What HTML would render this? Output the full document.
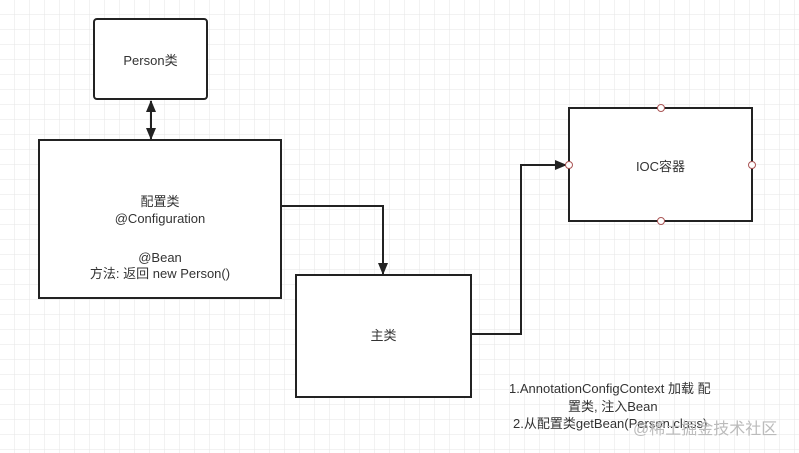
<!DOCTYPE html>
<html><head><meta charset="utf-8"><style>
html,body{margin:0;padding:0;background:#fff;}
svg{display:block;}
text{font-family:"Liberation Sans","Noto Sans CJK SC",sans-serif;font-size:13px;fill:#333;}
</style></head><body>
<svg width="799" height="453" viewBox="0 0 799 453" xmlns="http://www.w3.org/2000/svg">
<defs>
<pattern id="g" width="15" height="15" patternUnits="userSpaceOnUse">
<path d="M15 0V15M0 15H15" stroke="#e6e6e6" stroke-width="1" fill="none"/>
</pattern>
<marker id="a" markerWidth="12" markerHeight="10" refX="11" refY="5" orient="auto" markerUnits="userSpaceOnUse">
<path d="M0,0L12,5L0,10Z" fill="#222"/>
</marker>
<marker id="as" markerWidth="12" markerHeight="10" refX="1" refY="5" orient="auto" markerUnits="userSpaceOnUse">
<path d="M12,0L0,5L12,10Z" fill="#222"/>
</marker>
</defs>
<rect width="799" height="453" fill="#fff"/>
<rect width="799" height="453" fill="url(#g)"/>

<rect x="94" y="19" width="113" height="80" rx="3" fill="#fff" stroke="#222" stroke-width="2"/>
<text x="150.5" y="65" text-anchor="middle">Person类</text>

<line x1="151" y1="101" x2="151" y2="139" stroke="#222" stroke-width="2" marker-start="url(#as)" marker-end="url(#a)"/>

<rect x="39" y="140" width="242" height="158" fill="#fff" stroke="#222" stroke-width="2"/>
<text x="160" y="206" text-anchor="middle">配置类</text>
<text x="160" y="223" text-anchor="middle">@Configuration</text>
<text x="160" y="262" text-anchor="middle">@Bean</text>
<text x="160" y="278" text-anchor="middle">方法: 返回 new Person()</text>

<polyline points="281,206 383,206 383,274" fill="none" stroke="#222" stroke-width="2" marker-end="url(#a)"/>

<rect x="296" y="275" width="175" height="122" fill="#fff" stroke="#222" stroke-width="2"/>
<text x="383.5" y="340" text-anchor="middle">主类</text>

<polyline points="471,334 521,334 521,165 566,165" fill="none" stroke="#222" stroke-width="2" marker-end="url(#a)"/>

<rect x="569" y="108" width="183" height="113" fill="#fff" stroke="#222" stroke-width="2"/>
<text x="660.5" y="171" text-anchor="middle">IOC容器</text>
<g fill="#fff" stroke="#a55" stroke-width="1">
<circle cx="661" cy="108" r="3.5"/><circle cx="569" cy="165" r="3.5"/>
<circle cx="752" cy="165" r="3.5"/><circle cx="661" cy="221" r="3.5"/>
</g>

<text x="509" y="393">1.AnnotationConfigContext 加载 配</text>
<text x="568" y="411">置类, 注入Bean</text>
<text x="513" y="428">2.从配置类getBean(Person.class)</text>
<text x="633" y="434" style="font-size:16px;fill:#bbb;">@稀土掘金技术社区</text>
</svg>
</body></html>
